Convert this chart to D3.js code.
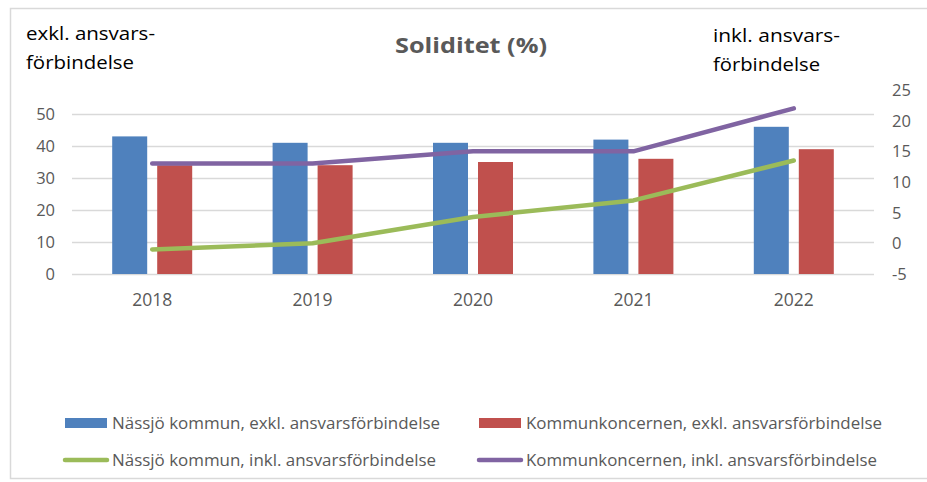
<!DOCTYPE html>
<html>
<head>
<meta charset="utf-8">
<script src="https://cdn.jsdelivr.net/npm/d3@7"></script>
<style>
  body { margin: 0; background: #fff; }
  text { font-family: "Open Sans", "Liberation Sans", sans-serif; }
</style>
</head>
<body>
<svg id="chart" width="927" height="482"></svg>
<script>
// chart data
var years = ["2018", "2019", "2020", "2021", "2022"];
var kommunExkl = [43, 41, 41, 42, 46];
var koncernExkl = [34, 34, 35, 36, 39];
var kommunInkl = [-1, 0, 4.3, 7, 13.5];
var koncernInkl = [13, 13, 15, 15, 22];
var leftTicks = [0, 10, 20, 30, 40, 50];
var rightTicks = [-5, 0, 5, 10, 15, 20, 25];

var svg = d3.select("#chart");

// frame
svg.append("rect").attr("x", 10.5).attr("y", 8.5).attr("width", 930).attr("height", 470)
  .attr("fill", "#fff").attr("stroke", "#d9d9d9").attr("stroke-width", 1.5);

var plotLeft = 72, plotRight = 874;
var x0 = d3.scaleBand().domain(years).range([plotLeft, plotRight]);
var yL = d3.scaleLinear().domain([0, 50]).range([274, 114]);
var yR = d3.scaleLinear().domain([-5, 25]).range([274, 90]);

// gridlines
svg.append("g").selectAll("line").data(leftTicks).enter().append("line")
  .attr("x1", plotLeft).attr("x2", plotRight)
  .attr("y1", function(d){ return yL(d) + 0.5; })
  .attr("y2", function(d){ return yL(d) + 0.5; })
  .attr("stroke", "#d9d9d9").attr("stroke-width", 1.5);

// left axis labels
svg.append("g").selectAll("text").data(leftTicks).enter().append("text")
  .attr("x", 55).attr("y", function(d){ return yL(d); })
  .attr("dy", "0.36em").attr("text-anchor", "end")
  .attr("font-size", 16.5).attr("fill", "#595959")
  .text(function(d){ return d; });

// right axis labels
svg.append("g").selectAll("text").data(rightTicks).enter().append("text")
  .attr("x", 892).attr("y", function(d){ return yR(d); })
  .attr("dy", "0.36em").attr("text-anchor", "start")
  .attr("font-size", 16.5).attr("fill", "#595959")
  .text(function(d){ return d; });

// bars
var barW = 35, gap = 10;
function barX(year, idx) {
  var c = x0(year) + x0.bandwidth() / 2;
  return idx == 0 ? c - gap / 2 - barW : c + gap / 2;
}
var barSeries = [
  { vals: kommunExkl, color: "#4f81bd" },
  { vals: koncernExkl, color: "#c0504d" }
];
barSeries.forEach(function(s, si) {
  svg.append("g").selectAll("rect").data(s.vals).enter().append("rect")
    .attr("x", function(d, i){ return barX(years[i], si); })
    .attr("y", function(d){ return yL(d); })
    .attr("width", barW)
    .attr("height", function(d){ return yL(0) - yL(d); })
    .attr("fill", s.color);
});

// lines
var line = d3.line()
  .x(function(d, i){ return x0(years[i]) + x0.bandwidth() / 2; })
  .y(function(d){ return yR(d); });
[{ vals: kommunInkl, color: "#9bbb59" }, { vals: koncernInkl, color: "#8064a2" }].forEach(function(s) {
  svg.append("path").datum(s.vals)
    .attr("d", line).attr("fill", "none")
    .attr("stroke", s.color).attr("stroke-width", 4.5)
    .attr("stroke-linecap", "round").attr("stroke-linejoin", "round");
});

// x labels
svg.append("g").selectAll("text").data(years).enter().append("text")
  .attr("x", function(d){ return x0(d) + x0.bandwidth() / 2; })
  .attr("y", 306).attr("text-anchor", "middle")
  .attr("font-size", 17.5).attr("fill", "#595959")
  .text(function(d){ return d; });

// title
svg.append("text").attr("x", 395).attr("y", 53)
  .attr("font-size", 22).attr("font-weight", "bold").attr("fill", "#595959")
  .attr("textLength", 152).attr("lengthAdjust", "spacingAndGlyphs")
  .text("Soliditet (%)");

// axis titles
function twoLines(x, y, l1, w1, l2, w2) {
  svg.append("text").attr("x", x).attr("y", y).attr("font-size", 19).attr("fill", "#000")
    .attr("textLength", w1).attr("lengthAdjust", "spacingAndGlyphs").text(l1);
  svg.append("text").attr("x", x).attr("y", y + 29).attr("font-size", 19).attr("fill", "#000")
    .attr("textLength", w2).attr("lengthAdjust", "spacingAndGlyphs").text(l2);
}
twoLines(26, 40, "exkl. ansvars-", 129, "förbindelse", 108);
twoLines(713, 42, "inkl. ansvars-", 127, "förbindelse", 107);

// legend
var legend = [
  { label: "Nässjö kommun, exkl. ansvarsförbindelse", color: "#4f81bd", type: "bar", x: 65, y: 423, w: 328 },
  { label: "Kommunkoncernen, exkl. ansvarsförbindelse", color: "#c0504d", type: "bar", x: 479, y: 423, w: 356 },
  { label: "Nässjö kommun, inkl. ansvarsförbindelse", color: "#9bbb59", type: "line", x: 65, y: 460, w: 324 },
  { label: "Kommunkoncernen, inkl. ansvarsförbindelse", color: "#8064a2", type: "line", x: 479, y: 460, w: 351 }
];
legend.forEach(function(l) {
  if (l.type == "bar") {
    svg.append("rect").attr("x", l.x).attr("y", l.y - 5).attr("width", 42).attr("height", 10).attr("fill", l.color);
  } else {
    svg.append("line").attr("x1", l.x).attr("x2", l.x + 42).attr("y1", l.y).attr("y2", l.y)
      .attr("stroke", l.color).attr("stroke-width", 4.5).attr("stroke-linecap", "round");
  }
  svg.append("text").attr("x", l.x + 47).attr("y", l.y).attr("dy", "0.35em")
    .attr("font-size", 17).attr("fill", "#595959")
    .attr("textLength", l.w).attr("lengthAdjust", "spacingAndGlyphs")
    .text(l.label);
});
</script>
</body>
</html>
